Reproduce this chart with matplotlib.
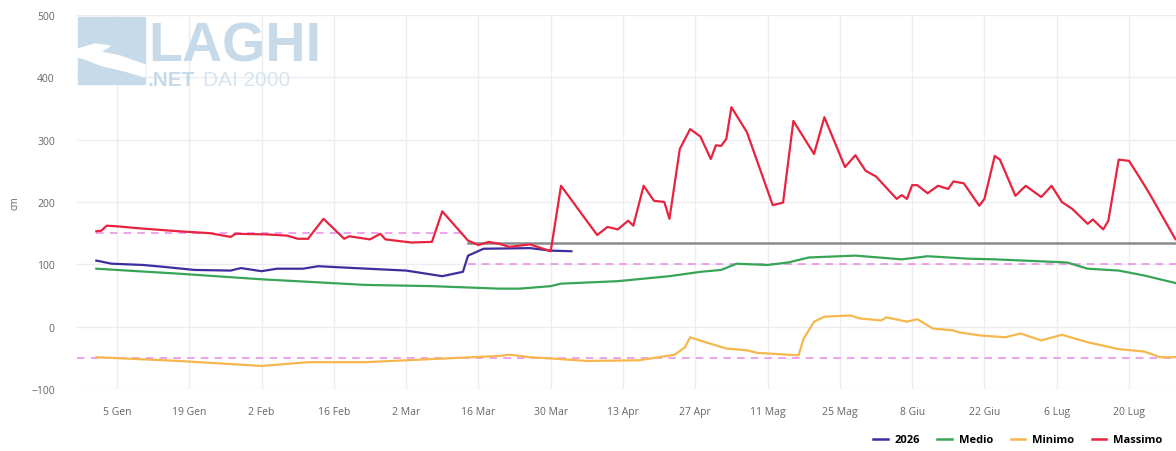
import matplotlib
matplotlib.use("Agg")
import matplotlib.pyplot as plt
from matplotlib.patches import Rectangle, Polygon
from matplotlib.lines import Line2D

plt.rcParams['font.family'] = ['Open Sans', 'DejaVu Sans']

# ---- data (day of year, 0 = 1 Gen) ----
tick_days = [4, 18, 32, 46, 60, 74, 88, 102, 116, 130, 144, 158, 172, 186, 200]
tick_labels = ["5 Gen", "19 Gen", "2 Feb", "16 Feb", "2 Mar", "16 Mar", "30 Mar",
               "13 Apr", "27 Apr", "11 Mag", "25 Mag", "8 Giu", "22 Giu", "6 Lug", "20 Lug"]

days_2026 = [0, 3, 9, 13, 19, 26, 28, 32, 35, 40, 43, 50, 60, 67, 71, 72, 75, 84, 88, 92]
vals_2026 = [106, 101, 99, 96, 91, 90, 94, 89, 93, 93, 97, 94, 90, 81, 88, 114, 125, 126, 122, 121]

days_medio = [0, 16, 32, 41, 52, 65, 78, 82, 88, 90, 101, 111, 117, 121, 124, 130, 134, 138,
              147, 156, 161, 169, 174, 188, 192, 198, 203, 210]
vals_medio = [93, 85, 76, 72, 67, 65, 61, 61, 65, 69, 73, 81, 88, 91, 101, 99, 103, 111,
              114, 108, 113, 109, 108, 103, 93, 90, 82, 68]

days_min = [0, 16, 32, 41, 52, 65, 78, 80, 84, 88, 95, 105, 112, 114, 115, 118, 122, 126, 128,
            132, 136, 137, 139, 141, 146, 148, 152, 153, 157, 159, 162, 166, 167, 171, 176, 179,
            183, 187, 192, 198, 203, 206, 210]
vals_min = [-49, -55, -63, -57, -57, -52, -47, -45, -49, -51, -55, -54, -45, -33, -17, -25, -35,
            -38, -42, -44, -46, -19, 8, 16, 18, 13, 10, 15, 8, 12, -3, -6, -9, -14, -17, -11,
            -22, -13, -25, -36, -40, -49, -49]

days_max = [0, 1, 2, 4, 8, 16, 22, 26, 27, 33, 37, 39, 41, 44, 48, 49, 53, 55, 56, 61, 65, 67,
            72, 74, 76, 78, 80, 84, 88, 90, 97, 99, 101, 103, 104, 106, 108, 110, 111, 113, 115,
            117, 119, 120, 121, 122, 123, 126, 131, 133, 135, 139, 141, 145, 147, 149, 151, 155,
            156, 157, 158, 159, 161, 163, 165, 166, 168, 171, 172, 174, 175, 178, 180, 183, 185,
            187, 189, 192, 193, 195, 196, 198, 200, 202, 204, 209, 210]
vals_max = [153, 154, 162, 161, 158, 153, 150, 144, 149, 148, 146, 141, 141, 173, 141, 145, 140,
            149, 140, 135, 136, 185, 138, 131, 136, 133, 128, 132, 121, 226, 147, 160, 156, 170,
            162, 226, 202, 200, 173, 285, 317, 305, 269, 291, 290, 301, 352, 312, 195, 199, 330,
            277, 336, 256, 275, 250, 241, 205, 211, 205, 227, 227, 214, 226, 221, 233, 230, 194,
            205, 274, 268, 210, 226, 208, 226, 200, 189, 165, 172, 156, 170, 268, 266, 240, 213,
            140, 145]

# reference levels
upper_level_early = 150   # until mid March
upper_level_late = 100    # from mid March
lower_level = -50
gray_level = 135
level_switch_day = 72

# ---- figure ----
W, H = 1176, 452
fig = plt.figure(figsize=(W / 100, H / 100), dpi=100)
ax = fig.add_axes([77 / W, 1 - 390 / H, (W - 77) / W, (390 - 16) / H])

ax.set_xlim(-3.74, 209.1)
ax.set_ylim(-100, 500)
ax.set_yticks([-100, 0, 100, 200, 300, 400, 500])
ax.set_xticks(tick_days)
ax.set_xticklabels(tick_labels)
ax.grid(True, color='#ececf2', linewidth=1.0)
ax.set_axisbelow(True)
for s in ax.spines.values():
    s.set_visible(False)
ax.tick_params(axis='both', length=0, labelsize=7.5, labelcolor='#666666')
ax.tick_params(axis='x', pad=12)
ax.tick_params(axis='y', pad=16)
ax.set_ylabel('cm', fontsize=7, color='#666666', labelpad=8)

# reference lines
pink = '#e98ae9'
ax.plot([0, level_switch_day - 1], [upper_level_early] * 2, color=pink, lw=1.1, ls=(0, (5, 4)))
ax.plot([level_switch_day, 212], [upper_level_late] * 2, color=pink, lw=1.1, ls=(0, (5, 4)))
ax.axhline(lower_level, color=pink, lw=1.1, ls=(0, (5, 4)))
ax.plot([level_switch_day, 212], [gray_level] * 2, color='#8a8a8a', lw=1.8)

# series
ax.plot(days_2026, vals_2026, color='#3d2e9e', lw=1.6, label='2026')
ax.plot(days_medio, vals_medio, color='#38a556', lw=1.6, label='Medio')
ax.plot(days_min, vals_min, color='#f6b74e', lw=1.6, label='Minimo')
ax.plot(days_max, vals_max, color='#e8233f', lw=1.6, label='Massimo')

# legend
handles = [Line2D([], [], color=c, lw=1.8) for c in ['#3d2e9e', '#38a556', '#f6b74e', '#e8233f']]
fig.legend(handles, ['2026', 'Medio', 'Minimo', 'Massimo'], ncol=4, loc='center right',
           bbox_to_anchor=(1172 / W, 1 - 441 / H), frameon=False, handlelength=1.3,
           handletextpad=0.6, columnspacing=1.6, prop={'weight': 'bold', 'size': 8})

# logo watermark
logo = '#c6dae9'
fig.patches.append(Rectangle((78 / W, 1 - 85 / H), 67 / W, 67 / H, transform=fig.transFigure,
                             color=logo, zorder=0.5))
lake = [(78, 50), (95, 45), (110, 47), (100, 53), (120, 57), (145, 66), (145, 78), (125, 72),
        (100, 66), (85, 60), (78, 58)]
fig.patches.append(Polygon([(x / W, 1 - y / H) for x, y in lake], closed=True,
                           transform=fig.transFigure, color='white', zorder=0.6))
fig.text(148 / W, 1 - 61 / H, 'LAGHI', fontsize=40, fontweight='bold', color=logo,
         family='Liberation Sans', va='baseline', ha='left')
fig.text(148 / W, 1 - 86 / H, '.NET', fontsize=15, fontweight='bold', color=logo,
         family='Liberation Sans', va='baseline', ha='left')
fig.text(203 / W, 1 - 86 / H, 'DAI 2000', fontsize=15, fontweight='light', color='#d6e4ef',
         family='Liberation Sans', va='baseline', ha='left')

fig.savefig('out.png', dpi=100)
